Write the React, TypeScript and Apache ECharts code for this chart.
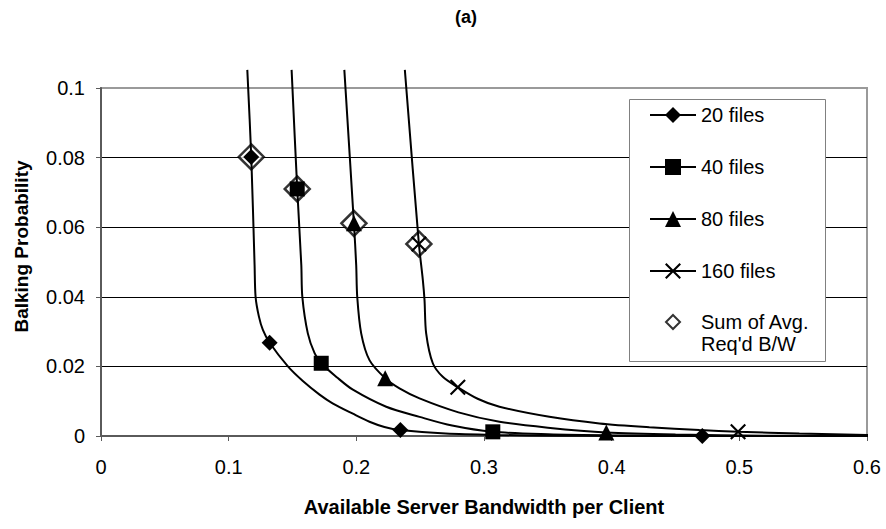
import React, { useEffect, useRef } from "react";
import * as echarts from "echarts";

const FONT = '"Liberation Sans", Arial, Helvetica, sans-serif';

// Axis ticks
const xTicks = [0, 0.1, 0.2, 0.3, 0.4, 0.5, 0.6];
const yTicks = [0, 0.02, 0.04, 0.06, 0.08, 0.1];

// 20 files curve
const files20X = [0.1146, 0.1177, 0.1203, 0.1211, 0.1237, 0.1268, 0.1321, 0.1464, 0.1581, 0.1712, 0.1814, 0.1973, 0.2103, 0.222, 0.2345, 0.27, 0.31, 0.36, 0.42, 0.471, 0.61];
const files20Y = [0.1052, 0.0802, 0.0491, 0.0399, 0.0343, 0.0305, 0.0268, 0.02, 0.0158, 0.0119, 0.0094, 0.0064, 0.0041, 0.0026, 0.0017, 0.0007, 0.0003, 0.0001, 0.00003, 0, 0];
const files20Marks = [1, 6, 14, 19];

// 40 files curve
const files40X = [0.1493, 0.1537, 0.1569, 0.1577, 0.162, 0.1673, 0.1725, 0.185, 0.1973, 0.2234, 0.2495, 0.275, 0.3069, 0.35, 0.4, 0.47, 0.61];
const files40Y = [0.1052, 0.071, 0.0491, 0.04, 0.0295, 0.0238, 0.0209, 0.0168, 0.0133, 0.0084, 0.0055, 0.003, 0.0012, 0.0005, 0.0002, 0.00005, 0];
const files40Marks = [1, 6, 12];

// 80 files curve
const files80X = [0.1906, 0.1981, 0.1999, 0.2007, 0.2038, 0.2103, 0.2226, 0.2338, 0.2495, 0.28, 0.3121, 0.35, 0.3958, 0.45, 0.52, 0.61];
const files80Y = [0.1052, 0.0611, 0.0491, 0.04, 0.0295, 0.0218, 0.0166, 0.0137, 0.0108, 0.0068, 0.0041, 0.0024, 0.001, 0.0004, 0.0001, 0];
const files80Marks = [1, 6, 12];

// 160 files curve
const files160X = [0.238, 0.249, 0.2521, 0.2534, 0.2547, 0.2599, 0.2677, 0.2795, 0.295, 0.3121, 0.3512, 0.3904, 0.4295, 0.4687, 0.499, 0.547, 0.6, 0.61];
const files160Y = [0.1052, 0.0552, 0.0448, 0.0391, 0.0295, 0.0209, 0.017, 0.014, 0.0107, 0.0084, 0.0055, 0.0036, 0.0025, 0.0017, 0.0012, 0.0007, 0.0003, 0.0002];
const files160Marks = [1, 7, 14];

// Sum of Avg. Req'd B/W points
const sumX = [0.1177, 0.1537, 0.1981, 0.249];
const sumY = [0.0802, 0.071, 0.0611, 0.0552];

const SUM_NAME = "Sum of Avg.\nReq'd B/W";
const X_PATH =
  "path://M0,1.5L1.5,0L8,6.5L14.5,0L16,1.5L9.5,8L16,14.5L14.5,16L8,9.5L1.5,16L0,14.5L6.5,8Z";

function curveData(xs: number[], ys: number[], marks: number[]) {
  return xs.map((x, i) =>
    marks.includes(i) ? { value: [x, ys[i]] } : { value: [x, ys[i]], symbol: "none" }
  );
}

function lineSeries(name: string, xs: number[], ys: number[], marks: number[], symbol: string, size: number) {
  return {
    name,
    type: "line",
    data: curveData(xs, ys, marks),
    symbol,
    symbolSize: size,
    showSymbol: true,
    smooth: 0.3,
    clip: false,
    z: 4,
    lineStyle: { color: "#000", width: 2 },
    itemStyle: { color: "#000", borderWidth: 0 },
    emphasis: { disabled: true },
  };
}

export default function App() {
  const ref = useRef<HTMLDivElement>(null);

  useEffect(() => {
    if (!ref.current) return;
    const chart = echarts.init(ref.current, undefined, { renderer: "svg" });
    const axisColor = "#5a5a5a";
    chart.setOption({
      animation: false,
      backgroundColor: "#fff",
      title: {
        text: "(a)",
        left: 455,
        top: 8,
        padding: 0,
        textStyle: { fontFamily: FONT, fontSize: 18, fontWeight: "bold", color: "#000" },
      },
      grid: {
        left: 101,
        right: 19,
        top: 88,
        bottom: 93,
        show: true,
        borderColor: "#9a9a9a",
        borderWidth: 2,
        backgroundColor: "#fff",
      },
      xAxis: {
        type: "value",
        min: xTicks[0],
        max: xTicks[xTicks.length - 1],
        interval: 0.1,
        name: "Available Server Bandwidth per Client",
        nameLocation: "middle",
        nameGap: 61,
        nameTextStyle: { fontFamily: FONT, fontSize: 20, fontWeight: "bold", color: "#000" },
        axisLine: { show: true, lineStyle: { color: axisColor, width: 2 } },
        axisTick: { show: true, inside: false, length: 5, lineStyle: { color: axisColor, width: 1 } },
        splitLine: { show: false },
        axisLabel: { fontFamily: FONT, fontSize: 20, color: "#000", margin: 21 },
      },
      yAxis: {
        type: "value",
        min: yTicks[0],
        max: yTicks[yTicks.length - 1],
        interval: 0.02,
        name: "Balking Probability",
        nameLocation: "middle",
        nameGap: 70,
        nameTextStyle: { fontFamily: FONT, fontSize: 19, fontWeight: "bold", color: "#000", padding: [0, 0, 0, 31] },
        axisLine: { show: true, lineStyle: { color: axisColor, width: 2 } },
        axisTick: { show: true, inside: false, length: 5, lineStyle: { color: axisColor, width: 1 } },
        splitLine: { show: true, showMinLine: false, showMaxLine: false, lineStyle: { color: "#000", width: 1 } },
        axisLabel: { fontFamily: FONT, fontSize: 20, color: "#000", margin: 16 },
      },
      graphic: [
        {
          type: "rect",
          z: 3,
          shape: { x: 629.5, y: 99.5, width: 196, height: 262 },
          style: { fill: "#fff", stroke: "#808080", lineWidth: 1 },
          silent: true,
        },
      ],
      legend: [
        {
          orient: "vertical",
          left: 649,
          top: 105,
          padding: 0,
          z: 10,
          itemGap: 32,
          itemWidth: 46,
          itemHeight: 20,
          selectedMode: false,
          textStyle: { fontFamily: FONT, fontSize: 20, color: "#000", lineHeight: 20 },
          data: ["20 files", "40 files", "80 files", "160 files"],
        },
        {
          orient: "vertical",
          left: 665,
          top: 289,
          padding: 0,
          z: 10,
          itemWidth: 14,
          itemHeight: 14,
          selectedMode: false,
          formatter: (name: string) => "\n" + name,
          textStyle: { fontFamily: FONT, fontSize: 20, color: "#000", lineHeight: 22, padding: [0, 0, 0, 16] },
          data: [{ name: SUM_NAME, icon: "diamond" }],
        },
      ],
      series: [
        lineSeries("20 files", files20X, files20Y, files20Marks, "diamond", 16),
        lineSeries("40 files", files40X, files40Y, files40Marks, "rect", 15),
        lineSeries("80 files", files80X, files80Y, files80Marks, "triangle", 16),
        lineSeries("160 files", files160X, files160Y, files160Marks, X_PATH, 16),
        {
          name: SUM_NAME,
          type: "scatter",
          data: sumX.map((x, i) => [x, sumY[i]]),
          symbol: "diamond",
          symbolSize: 25,
          z: 3,
          itemStyle: { color: "#fff", borderColor: "#000", borderWidth: 2.5 },
          emphasis: { disabled: true },
        },
      ],
    });
    return () => chart.dispose();
  }, []);

  return (
    <div
      ref={ref}
      style={{ position: "fixed", left: 0, top: 0, width: 886, height: 529 }}
    />
  );
}
